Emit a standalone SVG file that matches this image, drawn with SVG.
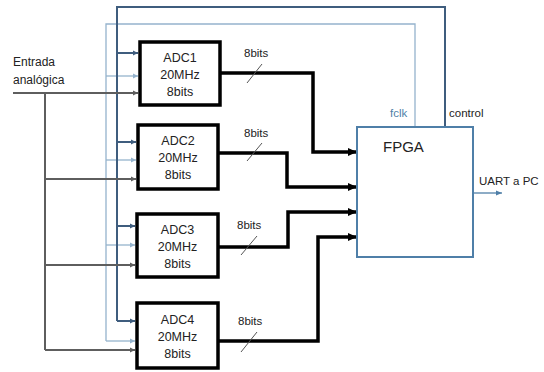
<svg xmlns="http://www.w3.org/2000/svg" width="544" height="372" viewBox="0 0 544 372">
<style>
text{font-family:"Liberation Sans",Arial,sans-serif;fill:#222}
.adc{fill:#fff;stroke:#000;stroke-width:3.5}
.adct{font-size:12.5px;text-anchor:middle}
.lbl{font-size:11.5px}
.bus{fill:none;stroke:#000;stroke-width:3.5}
.slash{stroke:#555;stroke-width:1}
.ctl{fill:none;stroke:#3f5d7e;stroke-width:2}
.clk{fill:none;stroke:#95b3cd;stroke-width:1.3}
.ana{fill:none;stroke:#5e5e5e;stroke-width:2}
</style>
<defs>
<marker id="ab" markerUnits="userSpaceOnUse" markerWidth="10" markerHeight="10" refX="9" refY="5" orient="auto"><path d="M0,1 L9,5 L0,9 Z" fill="#000"/></marker>
<marker id="ac" markerUnits="userSpaceOnUse" markerWidth="6" markerHeight="6" refX="5" refY="3" orient="auto"><path d="M0,0.5 L5,3 L0,5.5 Z" fill="#3f5d7e"/></marker>
<marker id="ak" markerUnits="userSpaceOnUse" markerWidth="6" markerHeight="6" refX="5" refY="3" orient="auto"><path d="M0,0.5 L5,3 L0,5.5 Z" fill="#95b3cd"/></marker>
<marker id="aa" markerUnits="userSpaceOnUse" markerWidth="6" markerHeight="6" refX="5" refY="3" orient="auto"><path d="M0,0.5 L5,3 L0,5.5 Z" fill="#5e5e5e"/></marker>
<marker id="au" markerUnits="userSpaceOnUse" markerWidth="7" markerHeight="7" refX="6" refY="3.5" orient="auto"><path d="M0,1 L6,3.5 L0,6 Z" fill="#4f7fa8"/></marker>
</defs>
<rect width="544" height="372" fill="#fff"/>
<g id="connectors">
<path class="clk" d="M415,127 V24 H106 V341"/>
<path class="clk" marker-end="url(#ak)" d="M106,76 H138"/>
<path class="clk" marker-end="url(#ak)" d="M106,160 H136"/>
<path class="clk" marker-end="url(#ak)" d="M106,245 H135"/>
<path class="clk" marker-end="url(#ak)" d="M106,341 H135"/>
<path class="ctl" d="M445,127 V7 H117 V321"/>
<path class="ctl" marker-end="url(#ac)" d="M117,53 H138"/>
<path class="ctl" marker-end="url(#ac)" d="M117,142 H136"/>
<path class="ctl" marker-end="url(#ac)" d="M117,226 H135"/>
<path class="ctl" marker-end="url(#ac)" d="M117,321 H135"/>
<path class="ana" marker-end="url(#aa)" d="M13,93 H138"/>
<path class="ana" d="M45,93 V350"/>
<path class="ana" marker-end="url(#aa)" d="M45,179 H136"/>
<path class="ana" marker-end="url(#aa)" d="M45,265 H135"/>
<path class="ana" marker-end="url(#aa)" d="M45,350 H135"/>
<path class="bus" marker-end="url(#ab)" d="M220,73 H313 V152 H357"/>
<path class="bus" marker-end="url(#ab)" d="M218,153 H287 V187 H357"/>
<path class="bus" marker-end="url(#ab)" d="M218,247 H288 V212 H357"/>
<path class="bus" marker-end="url(#ab)" d="M218,341 H318 V237 H357"/>
<line class="slash" x1="247" y1="83" x2="262" y2="64"/>
<line class="slash" x1="247" y1="161" x2="262" y2="143"/>
<line class="slash" x1="241" y1="255" x2="257" y2="236"/>
<line class="slash" x1="241" y1="352" x2="257" y2="332"/>
<text class="lbl" x="244" y="57">8bits</text>
<text class="lbl" x="244" y="137">8bits</text>
<text class="lbl" x="237" y="229">8bits</text>
<text class="lbl" x="238" y="325">8bits</text>
<path stroke="#4f7fa8" stroke-width="1.3" fill="none" marker-end="url(#au)" d="M473,193 H502"/>
<text class="lbl" x="390" y="117" style="fill:#4f7fa8">fclk</text>
<text class="lbl" x="449" y="117">control</text>
<text class="lbl" x="479" y="185">UART a PC</text>
</g>
<g id="entrada">
<text class="lbl" x="13" y="66" style="font-size:12px">Entrada</text>
<text class="lbl" x="13" y="84" style="font-size:12px">analógica</text>
</g>
<g id="adc1">
<rect class="adc" x="140" y="42" width="80" height="63"/>
<text class="adct" x="180" y="62">ADC1</text>
<text class="adct" x="180" y="79">20MHz</text>
<text class="adct" x="180" y="96">8bits</text>
</g>
<g id="adc2">
<rect class="adc" x="138" y="125" width="80" height="64"/>
<text class="adct" x="178" y="145">ADC2</text>
<text class="adct" x="178" y="162">20MHz</text>
<text class="adct" x="178" y="179">8bits</text>
</g>
<g id="adc3">
<rect class="adc" x="137" y="214" width="81" height="63"/>
<text class="adct" x="177.5" y="234">ADC3</text>
<text class="adct" x="177.5" y="251">20MHz</text>
<text class="adct" x="177.5" y="268">8bits</text>
</g>
<g id="adc4">
<rect class="adc" x="137" y="303" width="81" height="65"/>
<text class="adct" x="177.5" y="324">ADC4</text>
<text class="adct" x="177.5" y="341">20MHz</text>
<text class="adct" x="177.5" y="358">8bits</text>
</g>
<g id="fpga">
<rect x="357" y="127" width="116" height="130" fill="#fff" stroke="#4f7fa8" stroke-width="2"/>
<text x="383" y="152" style="font-size:15px">FPGA</text>
</g>
</svg>
